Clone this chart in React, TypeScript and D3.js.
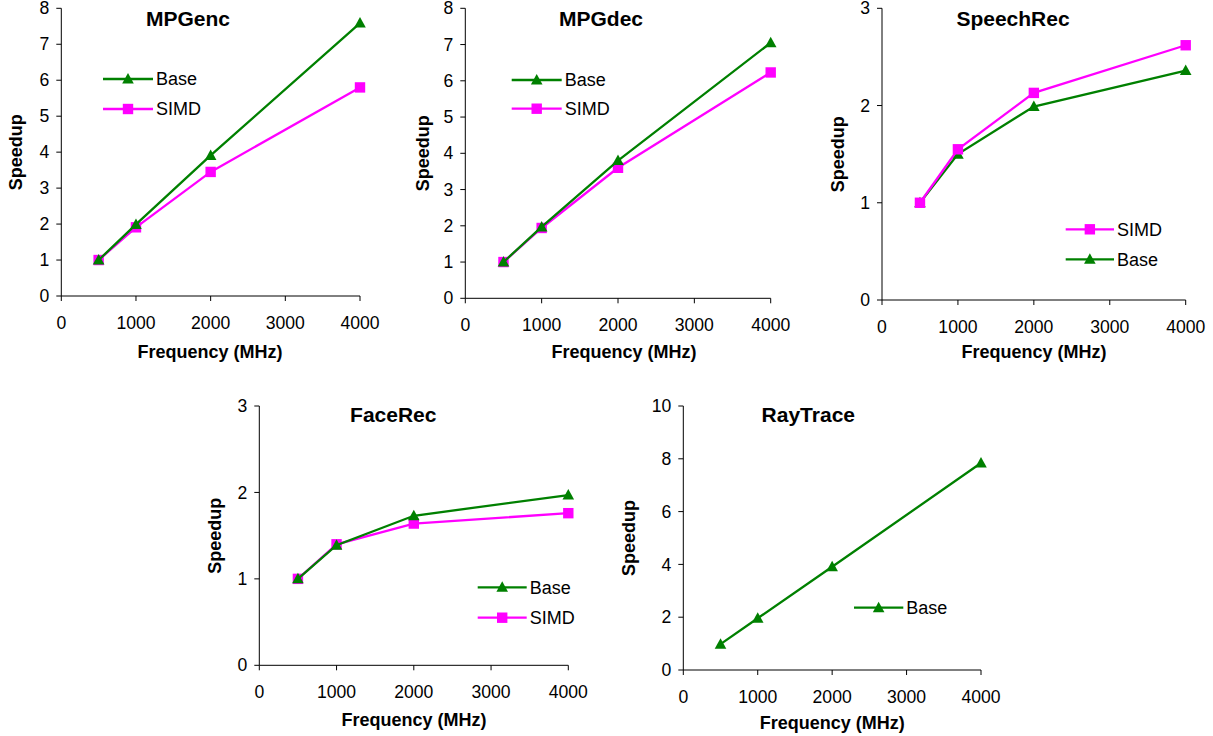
import React from "react";
import * as d3 from "d3";

const frequencies = [500, 1000, 2000, 4000];
const xTicks = [0, 1000, 2000, 3000, 4000];

const mpgencBase = [1, 1.99, 3.91, 7.59];
const mpgencSimd = [1, 1.91, 3.45, 5.8];
const mpgdecBase = [1, 1.97, 3.8, 7.05];
const mpgdecSimd = [1, 1.94, 3.6, 6.23];
const speechSimd = [1, 1.55, 2.13, 2.62];
const speechBase = [1, 1.5, 1.99, 2.36];
const faceBase = [1, 1.39, 1.73, 1.97];
const faceSimd = [1, 1.4, 1.64, 1.76];
const rayBase = [0.98, 1.96, 3.91, 7.84];

const GREEN = "#008000";
const MAGENTA = "#FF00FF";
const FONT = "'Liberation Sans', Arial, Helvetica, sans-serif";

type Series = { name: string; values: number[]; color: string; marker: "tri" | "sq" };

const base = (v: number[]): Series => ({ name: "Base", values: v, color: GREEN, marker: "tri" });
const simd = (v: number[]): Series => ({ name: "SIMD", values: v, color: MAGENTA, marker: "sq" });

const panels = [
  {
    title: "MPGenc", series: [base(mpgencBase), simd(mpgencSimd)], yMax: 8, yStep: 1,
    left: 61.3, right: 360, top: 8.3, bottom: 296,
    titleX: 188, titleY: 19, legX1: 103, legX2: 153, legY: [79, 109], yLabX: 16, xLabX: 210, xLabY: 352,
  },
  {
    title: "MPGdec", series: [base(mpgdecBase), simd(mpgdecSimd)], yMax: 8, yStep: 1,
    left: 465.3, right: 770.7, top: 8.3, bottom: 298.3,
    titleX: 601, titleY: 19, legX1: 511.7, legX2: 561.7, legY: [80, 108.7], yLabX: 423, xLabX: 624, xLabY: 352,
  },
  {
    title: "SpeechRec", series: [simd(speechSimd), base(speechBase)], yMax: 3, yStep: 1,
    left: 882, right: 1185.7, top: 8.3, bottom: 300,
    titleX: 1013, titleY: 19, legX1: 1065.7, legX2: 1114, legY: [229.3, 259.3], yLabX: 837.7, xLabX: 1034, xLabY: 352,
  },
  {
    title: "FaceRec", series: [base(faceBase), simd(faceSimd)], yMax: 3, yStep: 1,
    left: 259.3, right: 568.3, top: 406, bottom: 665.3,
    titleX: 393.3, titleY: 415, legX1: 477.7, legX2: 526.7, legY: [587.3, 617.7], yLabX: 215, xLabX: 414, xLabY: 720,
  },
  {
    title: "RayTrace", series: [base(rayBase)], yMax: 10, yStep: 2,
    left: 683.3, right: 981, top: 406, bottom: 670,
    titleX: 808.3, titleY: 415, legX1: 854, legX2: 903.3, legY: [607.7], yLabX: 628.3, xLabX: 832.3, xLabY: 722.3,
  },
];

function Marker({ kind, x, y, color }: { kind: string; x: number; y: number; color: string }) {
  if (kind === "sq") {
    return <rect x={x - 5.2} y={y - 5.2} width={10.4} height={10.4} fill={color} />;
  }
  return <path d={`M${x},${y - 6} L${x + 5.8},${y + 4.5} L${x - 5.8},${y + 4.5} Z`} fill={color} />;
}

function Panel({ p }: { p: (typeof panels)[number] }) {
  const x = d3.scaleLinear().domain([0, 4000]).range([p.left, p.right]);
  const y = d3.scaleLinear().domain([0, p.yMax]).range([p.bottom, p.top]);
  const yTicks = d3.range(0, p.yMax + 0.001, p.yStep);
  const line = d3
    .line<number>()
    .x((_, i) => x(frequencies[i]))
    .y((d) => y(d));
  const yMid = (p.top + p.bottom) / 2;
  return (
    <g>
      <line x1={p.left} x2={p.left} y1={y(p.yMax)} y2={p.bottom} stroke="#000" strokeWidth={1} />
      <line x1={p.left} x2={p.right} y1={p.bottom} y2={p.bottom} stroke="#000" strokeWidth={1} />
      {yTicks.map((t) => (
        <g key={"y" + t}>
          <line x1={p.left - 5} x2={p.left} y1={y(t)} y2={y(t)} stroke="#000" />
          <text x={p.left - 12} y={y(t)} dy="0.35em" textAnchor="end" fontSize={17.6} fontFamily={FONT} fill="#000">
            {t}
          </text>
        </g>
      ))}
      {xTicks.map((t) => (
        <g key={"x" + t}>
          <line x1={x(t)} x2={x(t)} y1={p.bottom} y2={p.bottom + 5} stroke="#000" />
          <text x={x(t)} y={p.bottom + 27} dy="0.35em" textAnchor="middle" fontSize={17.6} fontFamily={FONT} fill="#000">
            {t}
          </text>
        </g>
      ))}
      {p.series
        .slice()
        .reverse()
        .map((s) => (
          <g key={s.name}>
            <path d={line(s.values) || ""} fill="none" stroke={s.color} strokeWidth={2.3} />
            {s.values.map((v, i) => (
              <Marker key={i} kind={s.marker} x={x(frequencies[i])} y={y(v)} color={s.color} />
            ))}
          </g>
        ))}
      <text x={p.titleX} y={p.titleY} dy="0.35em" textAnchor="middle" fontSize={21} fontWeight="bold" fontFamily={FONT}>
        {p.title}
      </text>
      {p.series.map((s, i) => (
        <g key={"leg" + s.name}>
          <line x1={p.legX1} x2={p.legX2} y1={p.legY[i]} y2={p.legY[i]} stroke={s.color} strokeWidth={2.3} />
          <Marker kind={s.marker} x={(p.legX1 + p.legX2) / 2} y={p.legY[i]} color={s.color} />
          <text x={p.legX2 + 3} y={p.legY[i]} dy="0.35em" fontSize={18} fontFamily={FONT} fill="#000">
            {s.name}
          </text>
        </g>
      ))}
      <text
        transform={`translate(${p.yLabX},${yMid}) rotate(-90)`}
        dy="0.35em"
        textAnchor="middle"
        fontSize={18}
        fontWeight="bold"
        fontFamily={FONT}
      >
        Speedup
      </text>
      <text x={p.xLabX} y={p.xLabY} dy="0.35em" textAnchor="middle" fontSize={18} fontWeight="bold" fontFamily={FONT}>
        Frequency (MHz)
      </text>
    </g>
  );
}

export default function App() {
  return (
    <svg width={1213} height={736} style={{ position: "absolute", left: 0, top: 0, background: "#fff" }}>
      <rect width={1213} height={736} fill="#fff" />
      {panels.map((p) => (
        <Panel key={p.title} p={p} />
      ))}
    </svg>
  );
}
